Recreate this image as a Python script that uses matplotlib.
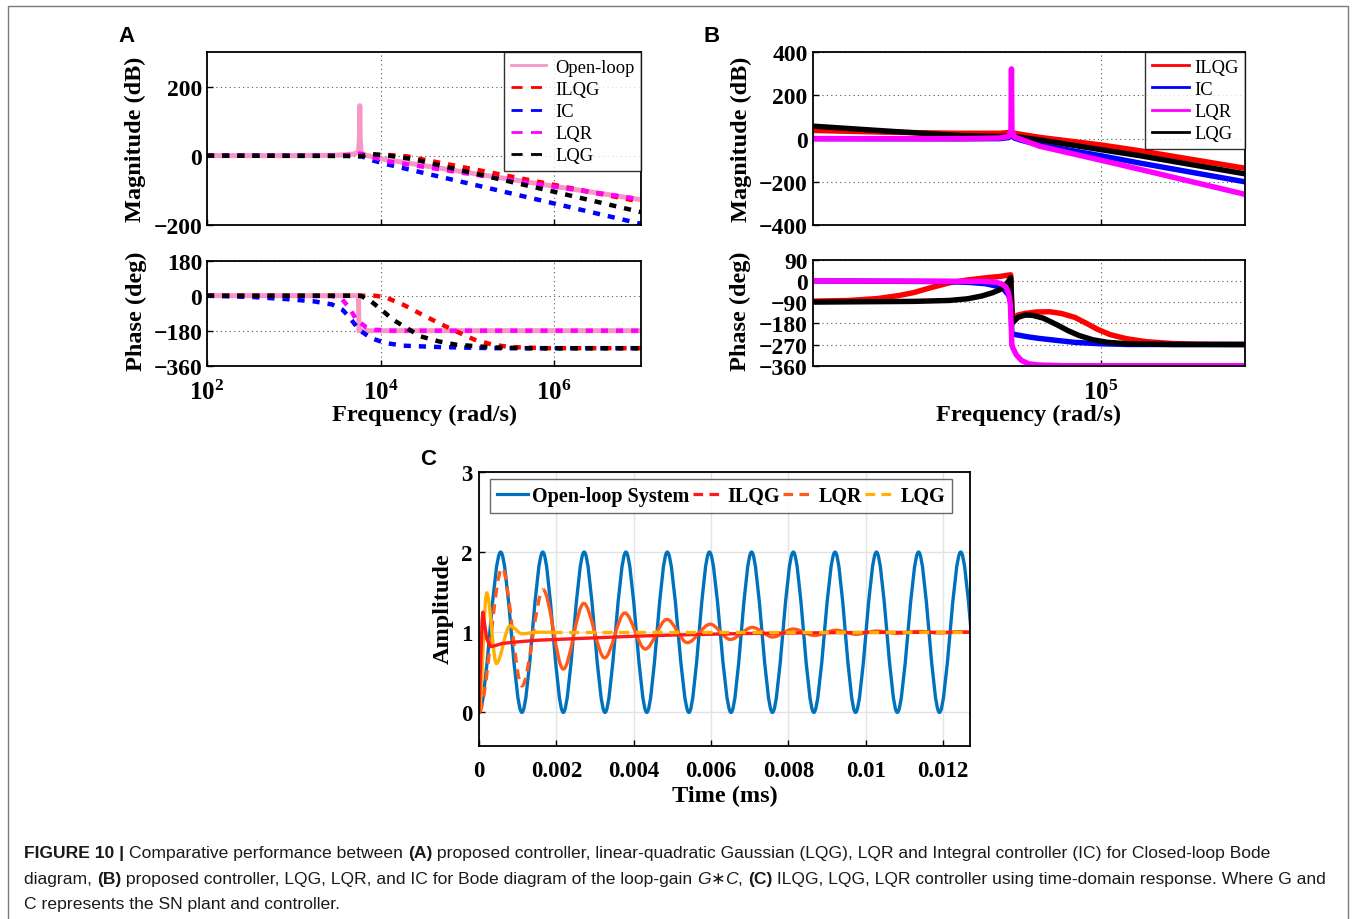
import numpy as np
import matplotlib
matplotlib.use("Agg")
import matplotlib.pyplot as plt
from matplotlib.path import Path
from matplotlib.patches import PathPatch, Rectangle
from matplotlib.lines import Line2D
from matplotlib.ticker import NullLocator

W, H = 1356, 920

# ---- panel A: closed-loop Bode (log10 of rad/s, dB / deg) ----
A_OL_W = [2, 3, 3.5, 3.7, 3.745, 3.755, 3.76, 3.765, 3.775, 3.8, 4, 5, 6, 7]
A_OL_MAG = [0, 0, 1, 5, 12, 45, 145, 45, 12, 3, -9, -49, -89, -128]
A_ILQG_W = [2, 3.8, 3.9, 4.08, 4.3, 5, 6, 7]
A_ILQG_MAG = [0, 0, 2, 2, -2, -36, -85, -134]
A_IC_W = [2, 3.7, 3.79, 3.91, 4.07, 4.39, 5, 6, 7]
A_IC_MAG = [0, 0, -3, -14, -25, -44, -80, -139, -198]
A_LQR_W = [2, 3.6, 3.72, 3.76, 3.85, 4.07, 5, 6, 7]
A_LQR_MAG = [0, 1, 4, 6, 0, -16, -52, -90, -127]
A_LQG_W = [2, 3.6, 3.75, 3.91, 4.07, 4.39, 5, 6, 7]
A_LQG_MAG = [0, -1, -2, 4, 1, -11, -47, -105, -164]

A_OL_PW = [2, 3.745, 3.75, 7]
A_OL_PH = [0, 0, -180, -180]
A_ILQG_PW = [2, 3.93, 4.05, 4.26, 4.46, 4.67, 4.87, 5.08, 5.29, 5.49, 5.9, 7]
A_ILQG_PH = [0, 0, -7, -46, -93, -141, -183, -226, -252, -264, -270, -270]
A_IC_PW = [2, 2.53, 2.9, 3.23, 3.44, 3.56, 3.64, 3.75, 3.89, 4.05, 4.26, 4.67, 5.29, 7]
A_IC_PH = [0, -7, -17, -29, -45, -72, -110, -175, -218, -243, -257, -264, -270, -270]
A_LQR_PW = [2, 3.44, 3.56, 3.64, 3.72, 3.83, 3.93, 4.14, 7]
A_LQR_PH = [0, -2, -20, -63, -123, -161, -175, -180, -180]
A_LQG_PW = [2, 3.77, 3.89, 4.01, 4.14, 4.3, 4.46, 4.67, 4.87, 5.29, 5.7, 7]
A_LQG_PH = [0, 0, -29, -72, -123, -166, -209, -235, -252, -266, -270, -270]

# ---- panel B: loop-gain Bode ----
B_ILQG_W = [1, 2, 3, 3.6, 3.72, 3.76, 3.8, 4.15, 5, 5.54, 7]
B_ILQG_MAG = [38, 30, 25, 25, 28, 35, 25, 6, -29, -56, -137]
B_IC_W = [1, 3, 3.6, 3.72, 3.76, 3.8, 3.9, 4.15, 5, 5.54, 7]
B_IC_MAG = [0, -1, 0, 5, 14, 3, -8, -29, -79, -113, -200]
B_LQR_W = [1, 3, 3.6, 3.72, 3.753, 3.76, 3.767, 3.8, 4.15, 5, 5.54, 7]
B_LQR_MAG = [0, 0, 3, 10, 40, 323, 40, 8, -35, -100, -142, -258]
B_LQG_W = [1, 2, 3, 3.6, 3.7, 3.76, 3.8, 4.15, 5, 5.54, 7]
B_LQG_MAG = [58, 36, 15, 10, 12, 22, 10, -6, -51, -79, -163]

B_ILQG_PW = [1, 1.5, 1.9, 2.2, 2.4, 2.65, 2.9, 3.15, 3.4, 3.6, 3.75, 3.772, 3.85, 3.95,
             4.1, 4.29, 4.45, 4.64, 4.8, 4.95, 5.13, 5.35, 5.63, 6.0, 6.37, 7]
B_ILQG_PH = [-86, -83, -75, -62, -50, -28, -8, 4, 13, 19, 26, -157, -145, -138,
             -132, -131, -138, -155, -180, -205, -228, -245, -258, -266, -269, -270]
B_IC_PW = [1, 2.9, 3.2, 3.4, 3.55, 3.65, 3.72, 3.755, 3.765, 3.85, 4.0, 4.14, 4.4, 4.64,
           5.0, 5.38, 7]
B_IC_PH = [0, -3, -7, -12, -22, -35, -60, -90, -225, -230, -238, -244, -253, -261,
           -267, -270, -270]
B_LQR_PW = [1, 3.4, 3.55, 3.62, 3.68, 3.72, 3.745, 3.758, 3.765, 3.78, 3.83, 3.9, 4.0,
            4.14, 4.5, 7]
B_LQR_PH = [0, -2, -6, -12, -25, -50, -100, -200, -268, -285, -315, -338, -352,
            -357, -360, -360]
B_LQG_PW = [1, 2.4, 2.9, 3.15, 3.35, 3.5, 3.6, 3.65, 3.7, 3.75, 3.772, 3.85, 3.95, 4.05,
            4.2, 4.39, 4.55, 4.7, 4.89, 5.1, 5.38, 6, 7]
B_LQG_PH = [-90, -87, -83, -76, -64, -50, -37, -25, -10, 14, -179, -155, -145, -146,
            -158, -186, -212, -232, -250, -261, -267, -270, -270]

# ---- panel C: step responses (time in ms) ----
OL_T = [0, .00056, .00111, .00165, .00218, .00272, .00326, .0038, .00434, .00487, .00543,
        .00596, .00652, .00705, .00759, .00813, .00866, .00921, .00974, .01028, .01082,
        .01137, .01191, .01246, .0130]
OL_Y = [0, 2, 0, 2, 0, 2, 0, 2, 0, 2, 0, 2, 0, 2, 0, 2, 0, 2, 0, 2, 0, 2, 0, 2, 0]
ILQG_T = [0, .00004, .00008, .0001, .00013, .0002, .00029, .0004, .0006, .001, .0015, .002,
          .003, .004, .005, .006, .007, .008, .01, .0127]
ILQG_Y = [0, .6, 1.15, 1.25, 1.15, .92, .82, .83, .86, .88, .9, .91, .93, .95, .965, .975,
          .985, .99, .997, 1.0]
LQR_T = [0, .0006, .00111, .00166, .00218, .00271, .00325, .00377, .0043, .00486, .00539,
         .00598, .0065, .00707, .0076, .00813, .00868, .00923, .00975, .0103, .01083, .01138,
         .0119, .01246, .0130]
LQR_Y = [0, 1.80, .33, 1.53, .54, 1.36, .68, 1.24, .79, 1.16, .87, 1.10, .91, 1.06, .94,
         1.04, .96, 1.025, .975, 1.015, .985, 1.01, .99, 1.005, .997]
LQG_T = [0, .0002, .00045, .0008, .00112, .0015, .0019]
LQG_Y = [0, 1.49, .61, 1.08, .98, 1.0, 1.0]
LQG_TAIL_T = [.0019, .0127]
LQG_TAIL_Y = [1.0, 1.0]

PINK, RED, BLUE, MAG, BLK = "#F797C5", "#FF0000", "#0000FF", "#FF00FF", "#000000"
C_BLUE, C_RED, C_ORANGE, C_YELLOW = "#0072BD", "#FF1A1A", "#FF5A1A", "#FFB000"

plt.rcParams["font.family"] = ["Liberation Serif", "DejaVu Serif"]
plt.rcParams["mathtext.fontset"] = "custom"
plt.rcParams["mathtext.rm"] = "Liberation Serif:bold"
plt.rcParams["mathtext.it"] = "Liberation Serif:bold"
plt.rcParams["mathtext.bf"] = "Liberation Serif:bold"

fig = plt.figure(figsize=(W / 100, H / 100), dpi=100)


def axes_px(l, t, r, b):
    return fig.add_axes([l / W, 1 - b / H, (r - l) / W, (b - t) / H])


def ftext(x, y, s, **kw):
    return fig.text(x / W, 1 - y / H, s, **kw)


def bode_style(ax, xlim, ylim, yticks, xticks, xlabels):
    ax.set_xscale("log")
    ax.set_xlim(xlim)
    ax.set_ylim(ylim)
    ax.set_yticks(yticks)
    ax.set_xticks(xticks)
    ax.xaxis.set_minor_locator(NullLocator())
    ax.set_xticklabels(xlabels)
    ax.grid(True, ls=(0, (1, 3)), color="#555555", lw=0.8)
    ax.tick_params(direction="in", length=4, width=1, labelsize=17, pad=3.5)
    ax.tick_params(axis="x", pad=10, labelsize=18)
    for s in ax.spines.values():
        s.set_linewidth(1.3)
    for lab in ax.get_yticklabels():
        lab.set_fontweight("bold")


def w(v):
    return np.power(10.0, v)


DOT = (0, (1.6, 1.8))
LW = 3.2

# panel A magnitude
ax = axes_px(207, 53.3, 641, 225.5)
ax.plot(w(A_OL_W), A_OL_MAG, color=PINK, lw=3.6, solid_capstyle="butt")
ax.plot(w(A_ILQG_W), A_ILQG_MAG, color=RED, lw=LW, ls=DOT)
ax.plot(w(A_IC_W), A_IC_MAG, color=BLUE, lw=LW, ls=DOT)
ax.plot(w(A_LQR_W), A_LQR_MAG, color=MAG, lw=LW, ls=DOT)
ax.plot(w(A_LQG_W), A_LQG_MAG, color=BLK, lw=LW, ls=DOT)
bode_style(ax, (1e2, 1e7), (-200, 300), [-200, 0, 200], [1e2, 1e4, 1e6], ["", "", ""])
hd = dict(lw=2, ls=(0, (4, 3)))
handles = [Line2D([], [], color=PINK, lw=2),
           Line2D([], [], color=RED, **hd), Line2D([], [], color=BLUE, **hd),
           Line2D([], [], color=MAG, **hd), Line2D([], [], color=BLK, **hd)]
leg = ax.legend(handles, ["Open-loop", "ILQG", "IC", "LQR", "LQG"], loc="upper right",
                bbox_to_anchor=(1, 1), borderaxespad=0, fancybox=False, fontsize=13.3,
                labelspacing=0.28, handlelength=1.9, handletextpad=0.5, borderpad=0.35)
leg.get_frame().set_edgecolor("black")
leg.get_frame().set_linewidth(1)

# panel A phase
ax = axes_px(207, 261.7, 641, 366.7)
ax.plot(w(A_OL_PW), A_OL_PH, color=PINK, lw=3.6)
ax.plot(w(A_ILQG_PW), A_ILQG_PH, color=RED, lw=LW, ls=DOT)
ax.plot(w(A_IC_PW), A_IC_PH, color=BLUE, lw=LW, ls=DOT)
ax.plot(w(A_LQR_PW), A_LQR_PH, color=MAG, lw=LW, ls=DOT)
ax.plot(w(A_LQG_PW), A_LQG_PH, color=BLK, lw=LW, ls=DOT)
bode_style(ax, (1e2, 1e7), (-360, 180), [-360, -180, 0, 180], [1e2, 1e4, 1e6],
           [r"$10^{2}$", r"$10^{4}$", r"$10^{6}$"])

# panel B magnitude
BLW = 3.9
ax = axes_px(812.5, 53.3, 1245, 226)
ax.plot(w(B_ILQG_W), B_ILQG_MAG, color=RED, lw=BLW)
ax.plot(w(B_IC_W), B_IC_MAG, color=BLUE, lw=BLW)
ax.plot(w(B_LQG_W), B_LQG_MAG, color=BLK, lw=BLW)
ax.plot(w(B_LQR_W), B_LQR_MAG, color=MAG, lw=BLW)
bode_style(ax, (1e1, 1e7), (-400, 400), [-400, -200, 0, 200, 400], [1e5], [""])
handles = [Line2D([], [], color=c, lw=2) for c in (RED, BLUE, MAG, BLK)]
leg = ax.legend(handles, ["ILQG", "IC", "LQR", "LQG"], loc="upper right",
                bbox_to_anchor=(1, 1), borderaxespad=0, fancybox=False, fontsize=13.3,
                labelspacing=0.28, handlelength=2.0, handletextpad=0.3, borderpad=0.35)
leg.get_frame().set_edgecolor("black")
leg.get_frame().set_linewidth(1)

# panel B phase
ax = axes_px(812.5, 260.7, 1245, 366.7)
ax.plot(w(B_ILQG_PW), B_ILQG_PH, color=RED, lw=BLW)
ax.plot(w(B_IC_PW), B_IC_PH, color=BLUE, lw=BLW)
ax.plot(w(B_LQG_PW), B_LQG_PH, color=BLK, lw=BLW)
ax.plot(w(B_LQR_PW), B_LQR_PH, color=MAG, lw=BLW)
bode_style(ax, (1e1, 1e7), (-360, 90), [-360, -270, -180, -90, 0, 90], [1e5], [r"$10^{5}$"])


# panel C time response
def wave_path(t, y):
    # smooth curve through extrema (horizontal tangent at each listed point)
    verts = [(t[0], y[0])]
    codes = [Path.MOVETO]
    for i in range(1, len(t)):
        dt = t[i] - t[i - 1]
        verts += [(t[i - 1] + dt / 3, y[i - 1]), (t[i] - dt / 3, y[i]), (t[i], y[i])]
        codes += [Path.CURVE4] * 3
    return Path(verts, codes)


ax = axes_px(479, 473, 970, 747)
ax.set_axisbelow(True)
CLW = 2.4
ax.add_patch(PathPatch(wave_path(OL_T, OL_Y), fill=False, ec=C_BLUE, lw=CLW))
ax.plot(ILQG_T, ILQG_Y, color=C_RED, lw=CLW)
ax.add_patch(PathPatch(wave_path(LQR_T[:4], LQR_Y[:4]), fill=False, ec=C_ORANGE, lw=CLW,
                       ls=(0, (3, 2))))
ax.add_patch(PathPatch(wave_path(LQR_T[3:], LQR_Y[3:]), fill=False, ec=C_ORANGE, lw=CLW))
ax.add_patch(PathPatch(wave_path(LQG_T, LQG_Y), fill=False, ec=C_YELLOW, lw=CLW))
ax.plot(LQG_TAIL_T, LQG_TAIL_Y, color=C_YELLOW, lw=CLW, ls=(0, (3, 2)))
ax.set_xlim(0, 0.0127)
ax.set_ylim(-0.42, 3)
ax.set_xticks([0, 0.002, 0.004, 0.006, 0.008, 0.01, 0.012])
ax.set_xticklabels(["0", "0.002", "0.004", "0.006", "0.008", "0.01", "0.012"])
ax.set_yticks([0, 1, 2, 3])
ax.grid(True, color="#E3E3E3", lw=1)
ax.tick_params(direction="in", length=4, width=1, labelsize=16.5)
ax.tick_params(axis="x", pad=10)
ax.tick_params(axis="y", pad=5)
for lab in ax.get_xticklabels() + ax.get_yticklabels():
    lab.set_fontweight("bold")
for s in ax.spines.values():
    s.set_linewidth(1.3)
cd = dict(lw=2.3, ls=(0, (3, 2)))
handles = [Line2D([], [], color=C_BLUE, lw=2.3), Line2D([], [], color=C_RED, **cd),
           Line2D([], [], color=C_ORANGE, **cd), Line2D([], [], color=C_YELLOW, **cd)]
leg = ax.legend(handles, ["Open-loop System", "ILQG", "LQR", "LQG"], loc="upper left",
                bbox_to_anchor=((490 - 479) / 491, (747 - 480) / 274), borderaxespad=0,
                ncol=4, fancybox=False, prop=dict(weight="bold", size=14.5),
                handlelength=1.55, handletextpad=0.2, columnspacing=0.15, borderpad=0.35)
leg.get_frame().set_edgecolor("#444444")
leg.get_frame().set_linewidth(1)

# axis labels
bold = dict(fontsize=17.5, fontweight="bold", ha="center", va="center")
ftext(135, 139, "Magnitude (dB)", rotation=90, **bold)
ftext(136, 311, "Phase (deg)", rotation=90, **bold)
ftext(741, 139, "Magnitude (dB)", rotation=90, **bold)
ftext(740, 311, "Phase (deg)", rotation=90, **bold)
ftext(425, 415, "Frequency (rad/s)", **bold)
ftext(1029, 415, "Frequency (rad/s)", **bold)
ftext(725, 796, "Time (ms)", **bold)
ftext(443, 609, "Amplitude", rotation=90, **bold)

# panel letters
letter = dict(fontsize=16, fontweight="bold", family=["Liberation Sans", "DejaVu Sans"],
              ha="center", va="baseline")
ftext(126, 42, "A", **letter)
ftext(712, 42, "B", **letter)
ftext(428, 465, "C", **letter)

# outer frame
fig.add_artist(Rectangle((8 / W, -0.01), 1340 / W, 1 - 7 / H + 0.01, transform=fig.transFigure,
                         fill=False, ec="#7A7A7A", lw=1))

# caption
renderer = fig.canvas.get_renderer()
CAP = dict(fontsize=12.6, family=["Liberation Sans", "DejaVu Sans"], color="#1A1A1A",
           va="baseline")


def seg_width(s, kw):
    t1 = fig.text(0, 0, s + "|", **kw)
    t2 = fig.text(0, 0, "|", **kw)
    wdt = t1.get_window_extent(renderer).width - t2.get_window_extent(renderer).width
    t1.remove()
    t2.remove()
    return wdt


def rich_line(x, y, parts):
    for s, weight, style in parts:
        kw = dict(CAP, fontweight=weight, fontstyle=style)
        ftext(x, y, s, **kw)
        x += seg_width(s, kw)


N, B, I = "normal", "bold", "italic"
rich_line(24, 858, [("FIGURE 10 | ", B, N), ("Comparative performance between ", N, N),
                    ("(A)", B, N),
                    (" proposed controller, linear-quadratic Gaussian (LQG), LQR and Integral "
                     "controller (IC) for Closed-loop Bode", N, N)])
rich_line(24, 884, [("diagram, ", N, N), ("(B)", B, N),
                    (" proposed controller, LQG, LQR, and IC for Bode diagram of the loop-gain ",
                     N, N),
                    ("G", N, I), ("\u2217", N, N), ("C", N, I), (", ", N, N), ("(C)", B, N),
                    (" ILQG, LQG, LQR controller using time-domain response. Where G and", N, N)])
rich_line(24, 909, [("C represents the SN plant and controller.", N, N)])

fig.savefig("out.png", dpi=100)
